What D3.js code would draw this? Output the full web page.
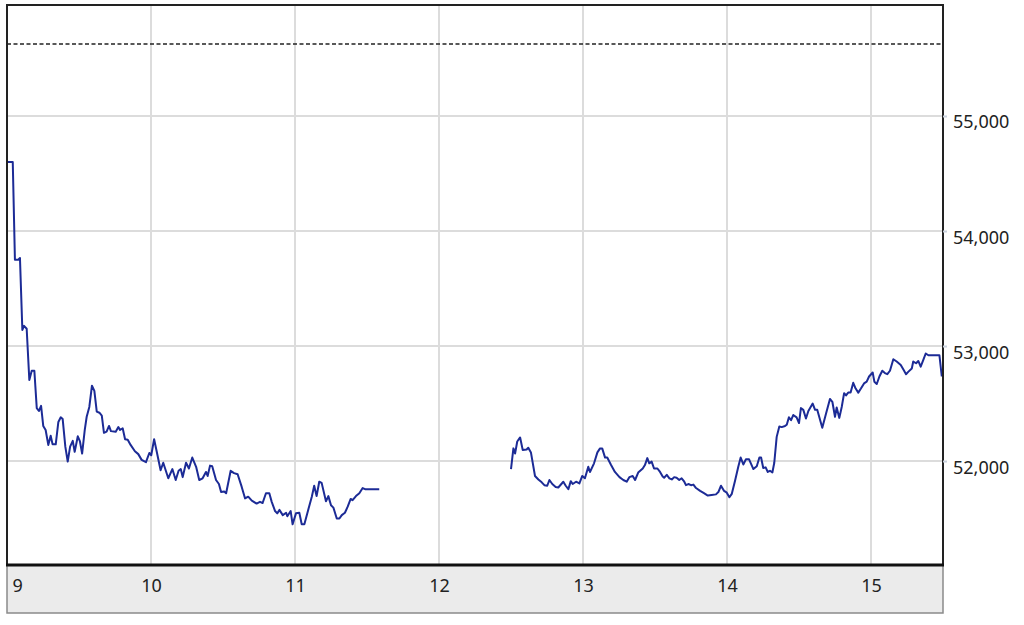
<!DOCTYPE html>
<html>
<head>
<meta charset="utf-8">
<script src="https://cdn.jsdelivr.net/npm/d3@7"></script>
<style>
  body { margin: 0; background: #fff; }
  svg text { font-family: "Noto Sans", "Open Sans", sans-serif; fill: #222; }
</style>
</head>
<body>
<div id="chart"></div>
<script>
// minutes after 9:00, morning session
var amTimes = [0, 2.4, 3.3, 4.7, 5.4, 6.4, 7.1, 8.2, 9.3, 10.3, 11.4, 12.4, 13.3, 14.2, 15.1, 16.1, 17.2, 18.2, 19, 20.3,
    21.4, 22.4, 23.2, 24.3, 25.3, 26.3, 27.4, 28.2, 29.5, 30.4, 31.3, 32.4, 33.2, 34.3, 35.4, 36.4, 37.4, 38.5, 39.5, 40.4,
    41.5, 42.5, 43.3, 45.3, 46.4, 47.1, 48.2, 49.2, 50.3, 51.5, 53.3, 54.7, 56.1, 57.9, 59.3, 60.1, 61.3, 62.4, 64, 65.1,
    67.2, 68.9, 70.3, 71.5, 72.4, 73.2, 74.6, 75.8, 77.2, 78.8, 80.1, 81.5, 82.9, 83.6, 84.6, 85.5, 87.1, 88.3, 89.2, 90.5,
    91.3, 93.2, 94.6, 96.1, 97.8, 99.2, 100.5, 102, 104, 105.4, 106.5, 107.9, 109.3, 110.3, 111.7, 112.6, 113.5, 114.9, 116.3, 116.8,
    118.2, 119, 120.4, 121.8, 122.8, 123.9, 125.3, 127, 128, 129, 130.1, 131.1, 132.9, 133.9, 135, 136, 137.4, 138.5, 139.5, 140.8,
    142, 143.2, 144, 145.4, 146.8, 148.2, 149.2, 155.1];
var amValues = [54600, 54600, 53750, 53750, 53765, 53140, 53175, 53150, 52705, 52785, 52785, 52460, 52435, 52480, 52305, 52270, 52140, 52220, 52145, 52145,
    52340, 52380, 52365, 52125, 51995, 52125, 52175, 52080, 52215, 52170, 52065, 52270, 52385, 52470, 52655, 52610, 52430, 52420, 52395, 52245,
    52255, 52305, 52260, 52255, 52295, 52270, 52285, 52190, 52185, 52140, 52085, 52060, 52010, 51990, 52070, 52050, 52190, 52080, 51920, 51985,
    51850, 51930, 51835, 51915, 51930, 51860, 51985, 51935, 52030, 51950, 51835, 51850, 51905, 51870, 51960, 51955, 51835, 51800, 51730, 51735,
    51720, 51915, 51895, 51885, 51775, 51675, 51690, 51655, 51630, 51645, 51635, 51720, 51720, 51645, 51565, 51545, 51575, 51530, 51550, 51520,
    51565, 51450, 51545, 51550, 51450, 51450, 51560, 51690, 51785, 51695, 51820, 51810, 51650, 51695, 51615, 51595, 51500, 51500, 51530, 51550,
    51605, 51670, 51660, 51695, 51720, 51765, 51755, 51755];

// afternoon session
var pmTimes = [210, 211, 211.7, 212.6, 213.8, 214.9, 216.5, 217.2, 218.3, 220, 221.4, 222.8, 223.9, 225.1, 226, 227.2, 228.6, 229.7, 231.8, 232.8,
    233.9, 234.9, 235.7, 237.1, 238.5, 239.7, 240.8, 242.2, 242.9, 244.6, 246, 247.1, 248, 249.2, 250.1, 251.7, 253.3, 255.2, 256.8, 258.2,
    259.3, 260.7, 261.7, 263, 264.9, 265.8, 266.8, 267.6, 268.6, 269.6, 271, 272.1, 273.2, 273.8, 274.9, 276, 277, 278, 279, 280.1,
    281.1, 282.2, 282.9, 283.9, 285, 286, 287.1, 288.8, 290.4, 292, 293.6, 295.4, 296.4, 297.5, 298.8, 299.9, 301, 302, 303.3, 304.7,
    305.7, 306.8, 307.9, 309.2, 311, 312.4, 313.5, 314.2, 315.1, 316.1, 317, 317.9, 318.9, 319.7, 320.7, 321.8, 322.8, 324.2, 324.9, 325.8,
    326.7, 327.6, 329, 330, 330.8, 331.8, 332.9, 333.9, 335.7, 336.7, 337.6, 339.7, 341.3, 342.9, 343.9, 345, 345.7, 346.8, 347.8, 348.8,
    349.6, 350.5, 351.5, 352.6, 353.6, 354.7, 355.8, 357.1, 358.2, 359.2, 360.7, 361.4, 362.4, 363.5, 364.7, 365.8, 366.8, 367.9, 369.3, 370.7,
    372.4, 373.5, 374.6, 375.5, 377, 377.6, 378.8, 379.7, 380.7, 381.8, 382.8, 383.9, 388.5, 389.5];
var pmValues = [51930, 52110, 52065, 52170, 52205, 52095, 52100, 52115, 52075, 51870, 51840, 51815, 51790, 51785, 51835, 51800, 51775, 51770, 51820, 51785,
    51755, 51825, 51800, 51820, 51805, 51870, 51850, 51950, 51905, 51980, 52075, 52110, 52110, 52030, 52030, 51965, 51905, 51860, 51835, 51820,
    51860, 51870, 51835, 51900, 51935, 51965, 52025, 51980, 51995, 51935, 51935, 51905, 51865, 51855, 51880, 51850, 51840, 51860, 51855, 51835,
    51850, 51820, 51790, 51800, 51790, 51795, 51765, 51740, 51720, 51700, 51705, 51710, 51730, 51785, 51740, 51725, 51685, 51715, 51825, 51950,
    52030, 51970, 52015, 52015, 51930, 51955, 52030, 52030, 51940, 51945, 51905, 51915, 51900, 51985, 52210, 52300, 52295, 52305, 52315, 52380,
    52355, 52400, 52380, 52330, 52460, 52445, 52370, 52435, 52500, 52445, 52445, 52290, 52415, 52540, 52515, 52385, 52465, 52375, 52470, 52590,
    52570, 52595, 52595, 52680, 52630, 52595, 52630, 52675, 52690, 52735, 52770, 52690, 52670, 52735, 52785, 52765, 52755, 52785, 52885, 52865,
    52835, 52795, 52755, 52775, 52805, 52865, 52850, 52870, 52820, 52880, 52935, 52920, 52920, 52735];

var refLevel = 55626;
var xTickLabels = ['9', '10', '11', '12', '13', '14', '15'];
var yTicks = [52000, 53000, 54000, 55000];

var width = 1024,
    height = 625,
    marginLeft = 7, marginTop = 5,
    plotW = 936, plotH = 560,
    bandH = 48;

var x = d3.scaleLinear().domain([0, 390]).range([0, plotW]);
var y = d3.scaleLinear().domain([51096, 55965]).range([plotH, 0]);

var svg = d3.select('#chart')
    .append('svg')
    .attr('width', width)
    .attr('height', height);

var g = svg.append('g')
    .attr('transform', 'translate(' + marginLeft + ',' + marginTop + ')');

var xTickMinutes = xTickLabels.map(function(d) { return (+d - 9) * 60; });

// grid
g.append('g')
    .selectAll('line')
    .data(xTickMinutes.slice(1))
    .enter()
    .append('line')
    .attr('x1', function(d) { return x(d); })
    .attr('x2', function(d) { return x(d); })
    .attr('y1', 0)
    .attr('y2', plotH)
    .attr('stroke', '#dcdcdc')
    .attr('stroke-width', 2);

g.append('g')
    .selectAll('line')
    .data(yTicks)
    .enter()
    .append('line')
    .attr('x1', 0)
    .attr('x2', plotW)
    .attr('y1', function(d) { return y(d); })
    .attr('y2', function(d) { return y(d); })
    .attr('stroke', '#dcdcdc')
    .attr('stroke-width', 2);

// reference line
g.append('line')
    .attr('x1', 0)
    .attr('x2', plotW)
    .attr('y1', y(refLevel))
    .attr('y2', y(refLevel))
    .attr('stroke', '#222')
    .attr('stroke-width', 1.5)
    .attr('stroke-dasharray', '4,2.5');

// price line, one path per session
var sessions = [
    d3.zip(amTimes, amValues),
    d3.zip(pmTimes, pmValues)
];

var line = d3.line()
    .x(function(d) { return x(d[0]); })
    .y(function(d) { return y(d[1]); });

g.selectAll('path.price')
    .data(sessions)
    .enter()
    .append('path')
    .attr('class', 'price')
    .attr('d', line)
    .attr('fill', 'none')
    .attr('stroke', '#1c2b96')
    .attr('stroke-width', 2)
    .attr('stroke-linejoin', 'round');

// frame
g.append('rect')
    .attr('width', plotW)
    .attr('height', plotH)
    .attr('fill', 'none')
    .attr('stroke', '#222')
    .attr('stroke-width', 2);

// right axis
var yAxis = g.append('g')
    .attr('transform', 'translate(' + plotW + ',0)')
    .call(d3.axisRight(y).tickValues(yTicks).tickFormat(d3.format(',')).tickSize(4).tickPadding(6));
yAxis.select('.domain').remove();
yAxis.selectAll('.tick line').attr('stroke', '#c9d1dd').attr('stroke-width', 2);
yAxis.selectAll('.tick text')
    .attr('dy', 12)
    .style('font-size', '18px');

// bottom band with axis labels
g.append('rect')
    .attr('x', 0)
    .attr('y', plotH)
    .attr('width', plotW)
    .attr('height', bandH)
    .attr('fill', '#ebebeb')
    .attr('stroke', '#8a8a8a')
    .attr('stroke-width', 1.5);

g.append('line')
    .attr('x1', -1)
    .attr('x2', plotW + 1)
    .attr('y1', plotH)
    .attr('y2', plotH)
    .attr('stroke', '#111')
    .attr('stroke-width', 3);

var xAxis = g.append('g')
    .attr('transform', 'translate(0,' + plotH + ')')
    .call(d3.axisBottom(x).tickValues(xTickMinutes)
        .tickFormat(function(d, i) { return xTickLabels[i]; })
        .tickSize(0).tickPadding(0));
xAxis.select('.domain').remove();
xAxis.selectAll('.tick text')
    .attr('y', 27)
    .attr('dy', 0)
    .style('font-size', '18px')
    .attr('text-anchor', function(d, i) { return i === 0 ? 'start' : 'middle'; })
    .attr('x', function(d, i) { return i === 0 ? 5 : 0; });
</script>
</body>
</html>
